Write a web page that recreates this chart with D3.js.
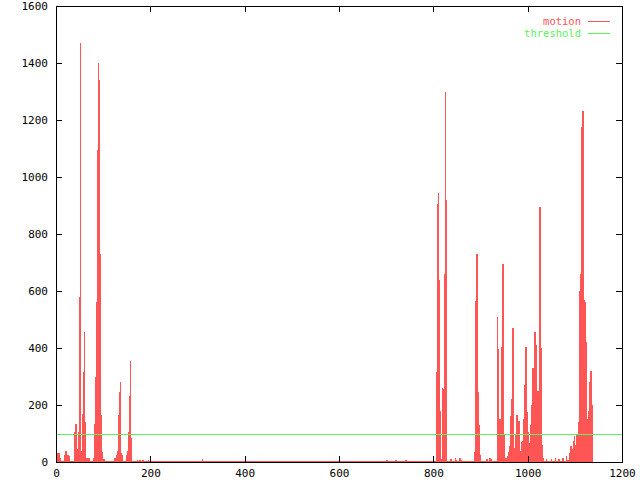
<!DOCTYPE html>
<html>
<head>
<meta charset="utf-8">
<script src="https://cdn.jsdelivr.net/npm/d3@7"></script>
<style>
  body { margin: 0; background: #fff; }
  svg { display: block; }
  text { font-family: "DejaVu Sans Mono", monospace; font-size: 11px; }
</style>
</head>
<body>
<div id="chart"></div>
<script>
// frame index where a run starts, and the motion value it holds until the next frame listed
var frames = [0, 4, 8, 11, 18, 21, 23, 27, 30, 40, 42, 44, 46, 48, 50, 52, 54, 56, 58, 60, 62, 64, 73, 80,
  82, 84, 86, 88, 90, 92, 94, 96, 98, 100, 104, 124, 127, 128, 130, 132, 134, 136, 138, 140, 142, 150,
  152, 154, 156, 158, 160, 162, 172, 174, 178, 180, 184, 186, 196, 198, 206, 208, 218, 220, 310, 312,
  420, 422, 540, 542, 700, 704, 720, 724, 740, 744, 760, 763, 785,
  806, 808, 810, 812, 815, 817, 819, 821, 823, 825, 827, 830, 837, 839, 846, 848, 850, 856, 858, 860,
  887, 890, 892, 894, 896, 898, 900, 902, 913, 915, 920, 922, 924, 926, 936, 938, 940, 943, 945, 947,
  949, 951, 957, 960, 962, 964, 966, 968, 970, 972, 975, 977, 979, 981, 983, 985, 987, 989, 991, 994,
  996, 998, 1000, 1002, 1005, 1007, 1009, 1011, 1013, 1015, 1017, 1020, 1022, 1024, 1026, 1028, 1030,
  1032, 1034, 1040, 1042, 1050, 1052, 1058, 1060, 1066, 1068, 1074, 1076, 1082, 1084, 1089, 1091, 1093,
  1095, 1097, 1099, 1101, 1103, 1105, 1107, 1109, 1111, 1113, 1115, 1117, 1119, 1121, 1123, 1125, 1128,
  1130, 1132, 1134, 1136, 1138];
var motion = [20, 30, 15, 5, 25, 40, 25, 20, 5, 105, 135, 25, 45, 105, 580, 1470, 40, 170, 315, 455, 140, 15, 5, 15,
  135, 300, 560, 1095, 1400, 1340, 730, 165, 35, 10, 5, 15, 5, 25, 40, 165, 245, 280, 30, 25, 5, 25,
  40, 105, 230, 355, 85, 4, 8, 4, 8, 4, 6, 4, 6, 4, 5, 4, 5, 4, 12, 4,
  5, 4, 5, 4, 6, 4, 8, 4, 6, 4, 5, 4, 4,
  315, 905, 945, 640, 180, 10, 260, 255, 660, 1300, 920, 5, 10, 4, 15, 8, 4, 15, 8, 4,
  36, 565, 730, 245, 130, 25, 10, 4, 10, 4, 15, 12, 5, 3, 510, 395, 150, 100, 405, 695,
  100, 15, 20, 35, 55, 160, 220, 470, 270, 50, 95, 165, 45, 145, 25, 40, 70, 75, 150, 270,
  405, 175, 105, 65, 60, 130, 200, 330, 280, 455, 410, 250, 120, 250, 895, 400, 60,
  15, 5, 10, 4, 12, 4, 15, 4, 10, 4, 15, 5, 20, 8, 30, 55, 20,
  45, 75, 90, 60, 95, 100, 140, 600, 660, 640, 1175, 1230, 570, 560, 420, 150, 100,
  180, 280, 320, 200, 0];
var threshold = 100;
var xTicks = [0, 200, 400, 600, 800, 1000, 1200];
var yTicks = [0, 200, 400, 600, 800, 1000, 1200, 1400, 1600];
var seriesNames = ["motion", "threshold"];
var seriesColors = ["#ff5555", "#5ef05e"];

var width = 640, height = 480;
var margin = {left: 56, right: 18, top: 6, bottom: 18};

var svg = d3.select("#chart").append("svg")
  .attr("width", width)
  .attr("height", height);

var x = d3.scaleLinear().domain([0, 1200]).range([margin.left, width - margin.right]);
var y = d3.scaleLinear().domain([0, 1600]).range([height - margin.bottom, margin.top]);

var runs = [];
frames.forEach(function(f, i) {
  if (i < frames.length - 1) runs.push({f: f, next: frames[i + 1], v: motion[i]});
});

// impulses: one column of at least a pixel for every run
svg.append("g").selectAll("rect")
  .data(runs)
  .enter().append("rect")
  .attr("x", function(d) { return Math.floor(x(d.f)); })
  .attr("width", function(d) { return Math.max(1, Math.round(x(d.next)) - Math.floor(x(d.f))); })
  .attr("y", function(d) { return Math.round(y(d.v)); })
  .attr("height", function(d) { return Math.max(1, Math.round(y(0)) - Math.round(y(d.v))); })
  .attr("fill", seriesColors[0])
  .attr("shape-rendering", "crispEdges");

// threshold line
svg.append("line")
  .attr("x1", x(0)).attr("x2", x(1200))
  .attr("y1", Math.round(y(threshold)) + 0.5).attr("y2", Math.round(y(threshold)) + 0.5)
  .attr("stroke", seriesColors[1])
  .attr("stroke-width", 1)
  .attr("shape-rendering", "crispEdges");

function styleAxis(g) {
  g.select(".domain").remove();
  g.selectAll("line").attr("stroke", "#000").attr("shape-rendering", "crispEdges");
  g.selectAll("text").attr("fill", "#000")
    .style("font-family", "'DejaVu Sans Mono', monospace").style("font-size", "11px");
  g.attr("font-family", null).attr("font-size", null);
}

var fmt = d3.format("d");
svg.append("g")
  .attr("transform", "translate(0," + y(0) + ")")
  .call(d3.axisBottom(x).tickValues(xTicks).tickSizeInner(-6).tickSizeOuter(0).tickPadding(7).tickFormat(fmt))
  .call(styleAxis);
svg.append("g")
  .attr("transform", "translate(0," + y(1600) + ")")
  .call(d3.axisTop(x).tickValues(xTicks).tickSizeInner(-6).tickSizeOuter(0).tickFormat(""))
  .call(styleAxis);
svg.append("g")
  .attr("transform", "translate(" + x(0) + ",0)")
  .call(d3.axisLeft(y).tickValues(yTicks).tickSizeInner(-6).tickSizeOuter(0).tickPadding(8).tickFormat(fmt))
  .call(styleAxis);
svg.append("g")
  .attr("transform", "translate(" + x(1200) + ",0)")
  .call(d3.axisRight(y).tickValues(yTicks).tickSizeInner(-6).tickSizeOuter(0).tickFormat(""))
  .call(styleAxis);

// border
svg.append("rect")
  .attr("x", x(0) + 0.5).attr("y", y(1600) + 0.5)
  .attr("width", x(1200) - x(0)).attr("height", y(0) - y(1600))
  .attr("fill", "none").attr("stroke", "#000")
  .attr("shape-rendering", "crispEdges");

// legend
var legend = svg.append("g").selectAll("g")
  .data(seriesNames)
  .enter().append("g")
  .attr("transform", function(d, i) { return "translate(0," + (21 + i * 12) + ")"; });
legend.append("text")
  .attr("x", 581)
  .attr("dy", "0.35em")
  .attr("text-anchor", "end")
  .attr("fill", function(d, i) { return seriesColors[i]; })
  .style("font-size", "10.5px")
  .text(function(d) { return d; });
legend.append("line")
  .attr("x1", 588).attr("x2", 610)
  .attr("y1", 0.5).attr("y2", 0.5)
  .attr("stroke", function(d, i) { return seriesColors[i]; })
  .attr("shape-rendering", "crispEdges");
</script>
</body>
</html>
